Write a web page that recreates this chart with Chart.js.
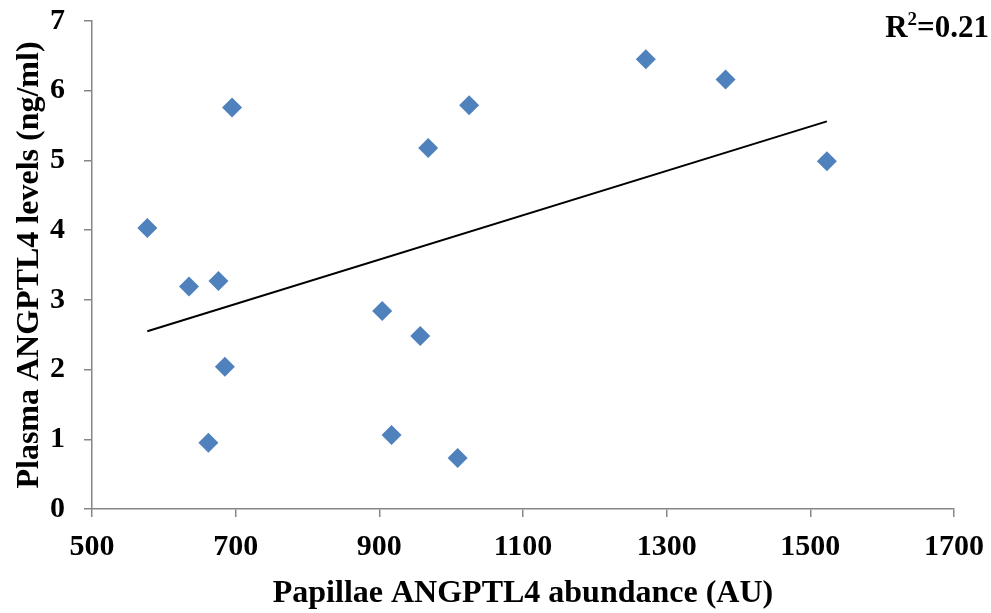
<!DOCTYPE html>
<html>
<head>
<meta charset="utf-8">
<script src="https://cdn.jsdelivr.net/npm/chart.js@4"></script>
<style>
  html, body { margin: 0; padding: 0; background: #fff; }
  #wrap { width: 991px; height: 613px; }
</style>
</head>
<body>
<div id="wrap"><canvas id="c"></canvas></div>
<script>
// valores
const abundance = [577, 635, 676, 662, 685, 695, 904, 917, 957, 968, 1009, 1025, 1271, 1382, 1523];
const plasma = [4.03, 3.19, 3.27, 0.95, 2.04, 5.76, 2.84, 1.06, 2.48, 5.18, 0.73, 5.79, 6.45, 6.16, 4.99];
const trendX = [577, 1523];
const trendY = [2.55, 5.56];
const xTicks = [500, 700, 900, 1100, 1300, 1500, 1700];
const yTicks = [0, 1, 2, 3, 4, 5, 6, 7];
const r2Text = '0.21';

const serif = '"Liberation Serif", "Times New Roman", serif';
const axisGray = '#868686';

const puntos = abundance.map((x, i) => ({ x: x, y: plasma[i] }));
const tendencia = trendX.map((x, i) => ({ x: x, y: trendY[i] }));

// texto R^2 arriba a la derecha
const r2Plugin = {
    id: 'r2Label',
    afterDraw: function (chart) {
        const ctx = chart.ctx;
        ctx.save();
        ctx.fillStyle = '#000';
        ctx.textBaseline = 'alphabetic';
        ctx.textAlign = 'left';
        const big = 'bold 31px ' + serif;
        const small = 'bold 19px ' + serif;
        ctx.font = big;
        const wR = ctx.measureText('R').width;
        ctx.font = small;
        const w2 = ctx.measureText('2').width;
        ctx.font = big;
        const wRest = ctx.measureText('=' + r2Text).width;
        const right = 989;
        let x = right - (wR + w2 + wRest);
        const base = 37;
        ctx.fillText('R', x, base);
        x += wR;
        ctx.font = small;
        ctx.fillText('2', x, base - 12);
        x += w2;
        ctx.font = big;
        ctx.fillText('=' + r2Text, x, base);
        ctx.restore();
    }
};

new Chart(document.getElementById('c'), {
    data: {
        datasets: [{
            type: 'scatter',
            data: puntos,
            pointStyle: 'rectRot',
            pointRadius: 10,
            pointHoverRadius: 10,
            backgroundColor: '#4F81BD',
            borderColor: '#4F81BD',
            borderWidth: 0,
            order: 2
        }, {
            type: 'line',
            data: tendencia,
            borderColor: '#000',
            borderWidth: 2,
            pointRadius: 0,
            fill: false,
            order: 1
        }]
    },
    options: {
        responsive: true,
        maintainAspectRatio: false,
        animation: false,
        layout: { padding: { left: 11, right: 37, top: 0, bottom: 0 } },
        plugins: {
            legend: { display: false },
            tooltip: { enabled: false }
        },
        scales: {
            x: {
                type: 'linear',
                min: 500,
                max: 1700,
                afterBuildTicks: function (axis) {
                    axis.ticks = xTicks.map(v => ({ value: v }));
                },
                afterFit: function (axis) {
                    axis.height = 104;
                    axis.paddingLeft = 0;
                    axis.paddingRight = 0;
                },
                grid: {
                    display: true,
                    drawOnChartArea: false,
                    drawTicks: true,
                    tickLength: 8,
                    color: axisGray,
                    lineWidth: 1.5
                },
                border: { display: true, color: axisGray, width: 1.5 },
                ticks: {
                    color: '#000',
                    font: { family: serif, size: 30, weight: 'bold' },
                    padding: 12,
                    maxRotation: 0,
                    callback: v => String(v)
                },
                title: {
                    display: true,
                    text: 'Papillae ANGPTL4 abundance (AU)',
                    color: '#000',
                    font: { family: serif, size: 32, weight: 'bold' },
                    padding: { top: 4, bottom: 0 }
                }
            },
            y: {
                type: 'linear',
                min: 0,
                max: 7,
                afterBuildTicks: function (axis) {
                    axis.ticks = yTicks.map(v => ({ value: v }));
                },
                afterFit: function (axis) {
                    axis.width = 81;
                    axis.paddingTop = 21;
                    axis.paddingBottom = 0;
                },
                grid: {
                    display: true,
                    drawOnChartArea: false,
                    drawTicks: true,
                    tickLength: 8,
                    color: axisGray,
                    lineWidth: 1.5
                },
                border: { display: true, color: axisGray, width: 1.5 },
                ticks: {
                    color: '#000',
                    font: { family: serif, size: 30, weight: 'bold' },
                    padding: 19,
                    callback: v => String(v)
                },
                title: {
                    display: true,
                    text: 'Plasma ANGPTL4 levels (ng/ml)',
                    color: '#000',
                    font: { family: serif, size: 32, weight: 'bold' },
                    padding: { top: 0, bottom: 2 }
                }
            }
        }
    },
    plugins: [r2Plugin]
});
</script>
</body>
</html>
